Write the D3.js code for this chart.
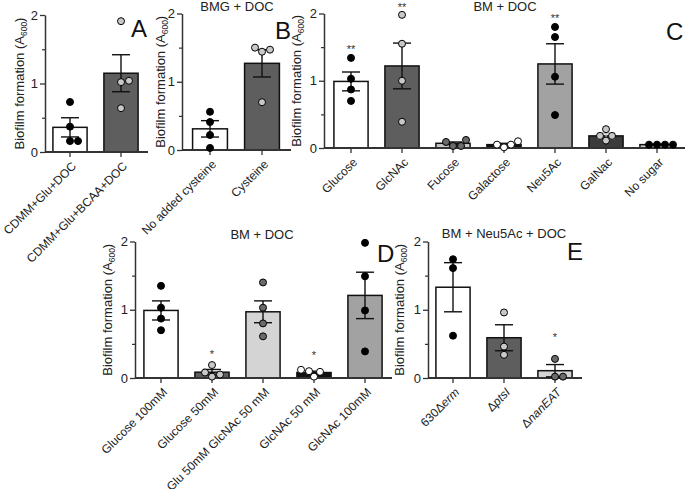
<!DOCTYPE html>
<html>
<head>
<meta charset="utf-8">
<script src="https://cdn.jsdelivr.net/npm/d3@7.9.0/dist/d3.min.js"></script>
<style>
  body { margin: 0; background: #fff; }
  svg { display: block; font-family: "Liberation Sans", Arial, Helvetica, sans-serif; }
</style>
</head>
<body>
<svg id="chart" width="685" height="489"></svg>
<script>
// ---- data ----
const aLabels = ['CDMM+Glu+DOC', 'CDMM+Glu+BCAA+DOC'];
const aMeans = [0.36, 1.15];
const aSems = [0.14, 0.27];
const aPoints = [[0.73, 0.37, 0.16, 0.16], [1.91, 1.04, 1.02, 0.64]];

const bLabels = ['No added cysteine', 'Cysteine'];
const bMeans = [0.31, 1.27];
const bSems = [0.12, 0.20];
const bPoints = [[0.56, 0.41, 0.22, 0.03], [1.47, 1.44, 1.50, 0.70]];

const cLabels = ['Glucose', 'GlcNAc', 'Fucose', 'Galactose', 'Neu5Ac', 'GalNac', 'No sugar'];
const cMeans = [0.99, 1.22, 0.07, 0.05, 1.25, 0.18, 0.05];
const cSems = [0.14, 0.34, 0.02, 0.02, 0.30, 0.04, 0.005];
const cPoints = [
  [1.34, 1.03, 0.87, 0.70], [1.98, 1.55, 1.00, 0.39], [0.09, 0.03, 0.03, 0.12],
  [0.05, 0.01, 0.05, 0.10], [1.80, 1.65, 1.06, 0.49], [0.28, 0.18, 0.18, 0.11],
  [0.05, 0.05, 0.05, 0.05]
];
const cStars = ['**', '**', '', '', '**', '', ''];
const cStarY = [1.50, 2.12, 0, 0, 1.96, 0, 0];

const dLabels = ['Glucose 100mM', 'Glucose 50mM', 'Glu 50mM GlcNAc 50 mM', 'GlcNAc 50 mM', 'GlcNAc 100mM'];
const dMeans = [0.99, 0.085, 0.97, 0.08, 1.21];
const dSems = [0.14, 0.04, 0.16, 0.02, 0.34];
const dPoints = [
  [1.35, 1.03, 0.87, 0.70], [0.19, 0.08, 0.05, 0.02], [1.40, 1.03, 0.80, 0.61],
  [0.10, 0.02, 0.09, 0.12], [1.98, 1.49, 0.99, 0.39]
];
const dStars = ['', '*', '', '*', ''];
const dStarY = [0, 0.38, 0, 0.37, 0];

const eLabels = ['630\u0394erm', '\u0394ptsI', '\u0394nanEAT'];
const eMeans = [1.33, 0.59, 0.107];
const eSems = [0.36, 0.19, 0.09];
const ePoints = [[1.74, 1.61, 0.62], [0.96, 0.46, 0.34], [0.28, 0.02, 0.02]];
const eStars = ['', '', '*'];
const eStarY = [0, 0, 0.63];

const yTicks = [0, 1, 2];
const yMinorTicks = [0.5, 1.5];

// ---- colours ----
const W = '#ffffff', DG = '#5e5e5e', LG = '#c8c8c8', LG2 = '#d4d4d4', MG = '#a2a2a2', K = '#111111', VDG = '#3b3b3b';
const dotK = '#000000', dotL = '#c8c8c8', dotD = '#6a6a6a', dotW = '#ffffff';

const panels = [
  { labels: aLabels, means: aMeans, sems: aSems, points: aPoints,
    fills: [W, DG], dots: [dotK, dotL], letter: 'A',
    axisX: 45, y0: 152, y2: 15, firstX: 70, step: 51, axisEnd: 148,
    titleX: 24, letterPos: [131, 37] },
  { labels: bLabels, means: bMeans, sems: bSems, points: bPoints,
    fills: [W, DG], dots: [dotK, dotL], letter: 'B', title: 'BMG + DOC',
    axisX: 182, y0: 150, y2: 13.5, firstX: 210, step: 52, axisEnd: 291,
    titleX: 165, headPos: [237, 11], letterPos: [275, 39] },
  { labels: cLabels, means: cMeans, sems: cSems, points: cPoints, stars: cStars, starY: cStarY,
    fills: [W, DG, LG, K, MG, VDG, LG], dots: [dotK, dotL, dotD, dotW, dotK, dotL, dotK],
    errColors: ['#111', '#111', '#111', '#111', '#111', '#bdbdbd', '#111'],
    letter: 'C', title: 'BM + DOC',
    axisX: 324, y0: 148, y2: 13.5, firstX: 351, step: 51, axisEnd: 685,
    titleX: 301, headPos: [505, 11], letterPos: [666, 40] },
  { labels: dLabels, means: dMeans, sems: dSems, points: dPoints, stars: dStars, starY: dStarY,
    fills: [W, DG, LG2, K, MG], dots: [dotK, dotL, dotD, dotW, dotK],
    letter: 'D', title: 'BM + DOC',
    axisX: 135, y0: 378, y2: 241.5, firstX: 161, step: 51, axisEnd: 392,
    titleX: 112, headPos: [262, 239], letterPos: [377, 262] },
  { labels: eLabels, means: eMeans, sems: eSems, points: ePoints, stars: eStars, starY: eStarY,
    fills: [W, DG, LG2], dots: [dotK, dotL, dotD],
    letter: 'E', title: 'BM + Neu5Ac + DOC',
    axisX: 428, y0: 378, y2: 241.5, firstX: 453, step: 51, axisEnd: 582,
    titleX: 404, headPos: [504, 238], letterPos: [567, 260] }
];

const svg = d3.select('#chart');
const R = 3.5;

// spread overlapping dots sideways, like Prism does
function dodge(vals, y) {
  const order = vals.map((v, i) => i).sort((a, b) => vals[a] - vals[b]);
  const placed = [];
  const offs = new Array(vals.length).fill(0);
  order.forEach((i) => {
    const py = y(vals[i]);
    for (let k = 0; k < 60; k++) {
      const dx = k === 0 ? 0 : (k % 2 ? 1 : -1) * Math.ceil(k / 2);
      const ok = placed.every((p) => Math.hypot(p[0] - dx, p[1] - py) >= 2 * R + 0.3);
      if (ok) { offs[i] = dx; placed.push([dx, py]); break; }
    }
  });
  return offs;
}

function drawPanel(p) {
  const g = svg.append('g');
  const n = p.labels.length;
  const x = d3.scaleBand()
    .domain(p.labels)
    .range([p.firstX - p.step / 2, p.firstX - p.step / 2 + n * p.step])
    .paddingInner(0.33)
    .paddingOuter(0.165);
  const y = d3.scaleLinear().domain([0, 2]).range([p.y0, p.y2]);
  const cx = (l) => x(l) + x.bandwidth() / 2;

  // y axis
  const yAx = g.append('g')
    .attr('transform', `translate(${p.axisX},0)`)
    .call(d3.axisLeft(y).tickValues(yTicks).tickSize(5).tickSizeOuter(0).tickPadding(2).tickFormat(d3.format('d')));
  yAx.select('.domain').attr('stroke', '#333').attr('stroke-width', 1.5);
  yAx.selectAll('.tick line').attr('stroke', '#333').attr('stroke-width', 1.3);
  yAx.selectAll('.tick text').attr('font-size', 13).attr('fill', '#222')
    .attr('font-family', '"Liberation Sans", Arial, sans-serif');
  const yMin = g.append('g')
    .attr('transform', `translate(${p.axisX},0)`)
    .call(d3.axisLeft(y).tickValues(yMinorTicks).tickSize(3).tickFormat(''));
  yMin.select('.domain').remove();
  yMin.selectAll('.tick line').attr('stroke', '#333').attr('stroke-width', 1.2);

  // bars
  g.selectAll('rect.bar')
    .data(p.labels)
    .join('rect')
    .attr('class', 'bar')
    .attr('x', (l) => x(l))
    .attr('y', (l, i) => y(p.means[i]))
    .attr('width', x.bandwidth())
    .attr('height', (l, i) => p.y0 - y(p.means[i]))
    .attr('fill', (l, i) => p.fills[i])
    .attr('stroke', '#111')
    .attr('stroke-width', 1.5);

  // x axis line + ticks
  g.append('line')
    .attr('x1', p.axisX).attr('x2', p.axisEnd)
    .attr('y1', p.y0).attr('y2', p.y0)
    .attr('stroke', '#333').attr('stroke-width', 2);
  g.selectAll('line.xt')
    .data(p.labels)
    .join('line')
    .attr('class', 'xt')
    .attr('x1', cx).attr('x2', cx)
    .attr('y1', p.y0).attr('y2', p.y0 + 5)
    .attr('stroke', '#333').attr('stroke-width', 1.3);

  // error bars
  const errs = g.selectAll('g.err')
    .data(p.labels)
    .join('g')
    .attr('class', 'err')
    .attr('stroke', (l, i) => (p.errColors ? p.errColors[i] : '#111'))
    .attr('stroke-width', 1.4);
  errs.append('line')
    .attr('x1', cx).attr('x2', cx)
    .attr('y1', (l, i) => y(p.means[i] - p.sems[i]))
    .attr('y2', (l, i) => y(p.means[i] + p.sems[i]));
  [1, -1].forEach((s) => {
    errs.append('line')
      .attr('x1', (l) => cx(l) - 9).attr('x2', (l) => cx(l) + 9)
      .attr('y1', (l, i) => y(p.means[i] + s * p.sems[i]))
      .attr('y2', (l, i) => y(p.means[i] + s * p.sems[i]));
  });

  // dots
  p.labels.forEach((l, i) => {
    const offs = dodge(p.points[i], y);
    g.selectAll(null)
      .data(p.points[i])
      .join('circle')
      .attr('cx', (v, j) => cx(l) + offs[j])
      .attr('cy', (v) => y(v))
      .attr('r', R)
      .attr('fill', p.dots[i])
      .attr('stroke', '#000')
      .attr('stroke-width', 1);
  });

  // significance stars
  if (p.stars) {
    g.selectAll('text.star')
      .data(p.labels)
      .join('text')
      .attr('class', 'star')
      .attr('x', cx)
      .attr('y', (l, i) => y(p.starY[i]) + 6)
      .attr('text-anchor', 'middle')
      .attr('font-size', 11)
      .attr('fill', '#333')
      .text((l, i) => p.stars[i]);
  }

  // x tick labels, rotated
  const xl = g.selectAll('text.xl')
    .data(p.labels)
    .join('text')
    .attr('class', 'xl')
    .attr('transform', (l) => `translate(${cx(l) + 4},${p.y0 + 12}) rotate(-45)`)
    .attr('text-anchor', 'end')
    .attr('dy', '0.35em')
    .attr('font-size', 12)
    .attr('fill', '#222');
  xl.each(function (l) {
    const t = d3.select(this);
    const k = l.indexOf('\u0394');
    if (k < 0) { t.text(l); return; }
    t.append('tspan').text(l.slice(0, k + 1));
    t.append('tspan').attr('font-style', 'italic').text(l.slice(k + 1));
  });

  // y title
  const yt = g.append('text')
    .attr('transform', `translate(${p.titleX},${(p.y0 + p.y2) / 2}) rotate(-90)`)
    .attr('text-anchor', 'middle')
    .attr('font-size', 13)
    .attr('fill', '#222');
  yt.append('tspan').text('Biofilm formation (A');
  yt.append('tspan').attr('font-size', 8.5).attr('dy', 3).text('600');
  yt.append('tspan').attr('dy', -3).text(')');

  // heading and panel letter
  if (p.title) {
    g.append('text')
      .attr('x', p.headPos[0]).attr('y', p.headPos[1])
      .attr('text-anchor', 'middle')
      .attr('font-size', 13)
      .attr('fill', '#222')
      .text(p.title);
  }
  g.append('text')
    .attr('x', p.letterPos[0]).attr('y', p.letterPos[1])
    .attr('font-size', 24)
    .attr('fill', '#111')
    .text(p.letter);
}

panels.forEach(drawPanel);
</script>
</body>
</html>
